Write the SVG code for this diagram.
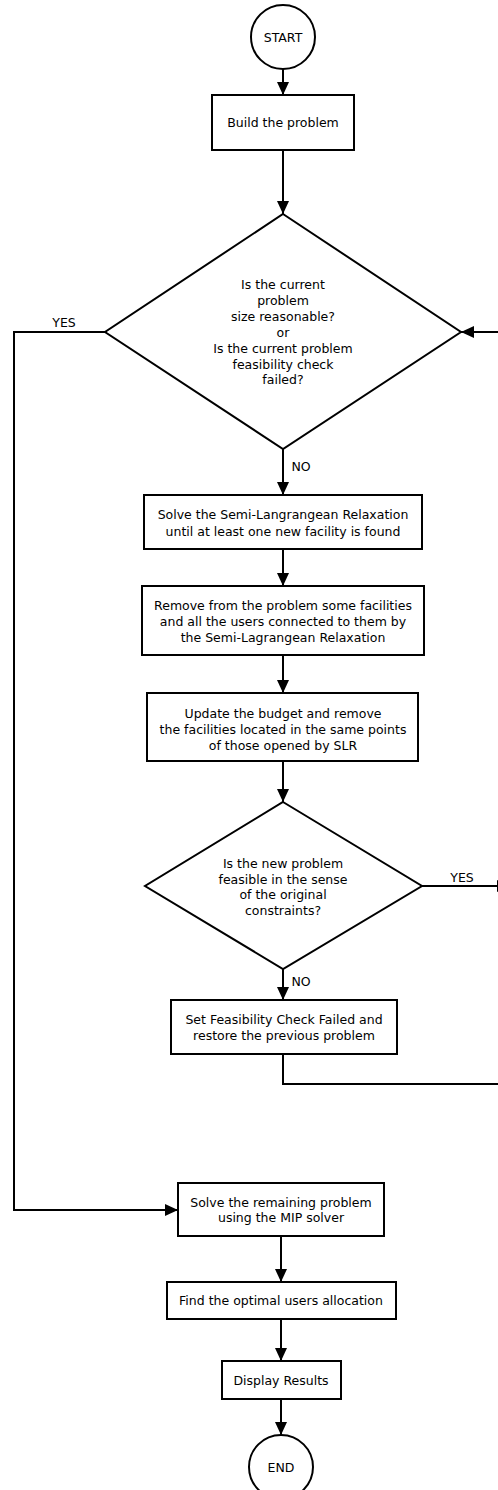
<svg xmlns="http://www.w3.org/2000/svg" width="498" height="1490" viewBox="0 0 498 1490">
  <style>
    .shape { fill: #fff; stroke: #000; stroke-width: 2; }
    .wire { fill: none; stroke: #000; stroke-width: 2; }
    text { font-family: "DejaVu Sans", "Liberation Sans", sans-serif; font-size: 12.5px; fill: #000; text-anchor: middle; dominant-baseline: central; }
  </style>
  <defs>
    <marker id="arrow" markerUnits="userSpaceOnUse" markerWidth="14" markerHeight="12" refX="13" refY="6" orient="auto">
      <path d="M0,0 L13,6 L0,12 Z" fill="#000"/>
    </marker>
  </defs>

  <rect width="498" height="1490" fill="#fff"/>

  <g id="connectors">
    <line class="wire" x1="283" y1="69" x2="283" y2="95" marker-end="url(#arrow)"/>
    <line class="wire" x1="283" y1="150" x2="283" y2="214" marker-end="url(#arrow)"/>
    <line class="wire" x1="283" y1="449" x2="283" y2="495" marker-end="url(#arrow)"/>
    <line class="wire" x1="283" y1="549" x2="283" y2="586" marker-end="url(#arrow)"/>
    <line class="wire" x1="283" y1="655" x2="283" y2="693" marker-end="url(#arrow)"/>
    <line class="wire" x1="283" y1="761" x2="283" y2="802" marker-end="url(#arrow)"/>
    <line class="wire" x1="283" y1="969" x2="283" y2="1000" marker-end="url(#arrow)"/>
    <!-- feasible: continue on the right-hand loop back to the first decision -->
    <line class="wire" x1="422" y1="886" x2="510" y2="886" marker-end="url(#arrow)"/>
    <line class="wire" x1="498" y1="332" x2="461" y2="332" marker-end="url(#arrow)"/>
    <!-- infeasible: restore and return -->
    <polyline class="wire" points="283,1054 283,1084 500,1084"/>
    <!-- size reasonable: jump to the MIP solver -->
    <polyline class="wire" points="105,332 14,332 14,1210 178,1210" marker-end="url(#arrow)"/>
    <line class="wire" x1="281" y1="1236" x2="281" y2="1282" marker-end="url(#arrow)"/>
    <line class="wire" x1="281" y1="1319" x2="281" y2="1361" marker-end="url(#arrow)"/>
    <line class="wire" x1="281" y1="1399" x2="281" y2="1435" marker-end="url(#arrow)"/>
    <text x="64" y="322">YES</text>
    <text x="301" y="466">NO</text>
    <text x="462" y="877">YES</text>
    <text x="301" y="981">NO</text>
  </g>

  <g id="start">
    <circle class="shape" cx="283" cy="37" r="32"/>
    <text x="283" y="37">START</text>
  </g>

  <g id="build">
    <rect class="shape" x="212" y="95" width="142" height="55"/>
    <text x="283" y="122">Build the problem</text>
  </g>

  <g id="size-check">
    <polygon class="shape" points="283,214 461,332 283,449 105,332"/>
    <text x="283" y="284">Is the current</text>
    <text x="283" y="300">problem</text>
    <text x="283" y="316">size reasonable?</text>
    <text x="283" y="332">or</text>
    <text x="283" y="348">Is the current problem</text>
    <text x="283" y="364">feasibility check</text>
    <text x="283" y="379">failed?</text>
  </g>

  <g id="solve-slr">
    <rect class="shape" x="144" y="495" width="278" height="54"/>
    <text x="283" y="514">Solve the Semi-Langrangean Relaxation</text>
    <text x="283" y="531">until at least one new facility is found</text>
  </g>

  <g id="remove-facilities">
    <rect class="shape" x="142" y="586" width="282" height="69"/>
    <text x="283" y="605">Remove from the problem some facilities</text>
    <text x="283" y="621">and all the users connected to them by</text>
    <text x="283" y="637">the Semi-Lagrangean Relaxation</text>
  </g>

  <g id="update-budget">
    <rect class="shape" x="147" y="693" width="271" height="68"/>
    <text x="283" y="713">Update the budget and remove</text>
    <text x="283" y="729">the facilities located in the same points</text>
    <text x="283" y="745">of those opened by SLR</text>
  </g>

  <g id="feasibility-check">
    <polygon class="shape" points="283,802 422,886 283,969 145,886"/>
    <text x="283" y="863">Is the new problem</text>
    <text x="283" y="879">feasible in the sense</text>
    <text x="283" y="894">of the original</text>
    <text x="283" y="910">constraints?</text>
  </g>

  <g id="restore">
    <rect class="shape" x="171" y="1000" width="226" height="54"/>
    <text x="284" y="1019">Set Feasibility Check Failed and</text>
    <text x="284" y="1035">restore the previous problem</text>
  </g>

  <g id="mip">
    <rect class="shape" x="178" y="1183" width="206" height="53"/>
    <text x="281" y="1202">Solve the remaining problem</text>
    <text x="281" y="1217">using the MIP solver</text>
  </g>

  <g id="allocation">
    <rect class="shape" x="167" y="1282" width="229" height="37"/>
    <text x="281" y="1300">Find the optimal users allocation</text>
  </g>

  <g id="display">
    <rect class="shape" x="222" y="1361" width="119" height="38"/>
    <text x="281" y="1380">Display Results</text>
  </g>

  <g id="end">
    <circle class="shape" cx="281" cy="1467" r="32"/>
    <text x="281" y="1467">END</text>
  </g>
</svg>
